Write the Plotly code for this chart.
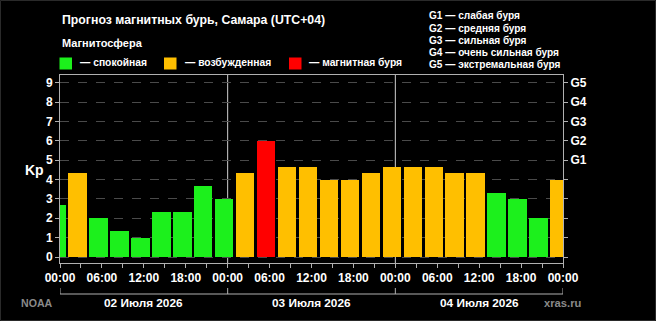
import plotly.graph_objects as go

# ---- data ----
hours = [-0.5 + 3 * i for i in range(25)]
kp = [2.67, 4.33, 2.0, 1.33, 1.0, 2.33, 2.33, 3.67, 3.0,
      4.33, 6.0, 4.67, 4.67, 4.0, 4.0, 4.33, 4.67, 4.67, 4.67,
      4.33, 4.33, 3.33, 3.0, 2.0, 4.0]
x_tickvals = [0, 6, 12, 18, 24, 30, 36, 42, 48, 54, 60, 66, 72]
x_ticktext = ["00:00", "06:00", "12:00", "18:00"] * 3 + ["00:00"]
day_labels = ["02 Июля 2026", "03 Июля 2026", "04 Июля 2026"]
g_labels = ["G1", "G2", "G3", "G4", "G5"]
g_desc = ["G1 — слабая буря", "G2 — средняя буря", "G3 — сильная буря",
          "G4 — очень сильная буря", "G5 — экстремальная буря"]
legend_items = [("— спокойная", "#1cf01c"), ("— возбужденная", "#ffbf00"),
                ("— магнитная буря", "#ff0000")]

GREEN, ORANGE, RED = "#1cf01c", "#ffbf00", "#ff0000"


def color_for(v):
    if v >= 5:
        return RED
    if v >= 4:
        return ORANGE
    return GREEN


W, H = 656, 321
L, R, T, B = 60, 563, 75, 263
pw, ph = R - L, B - T


def px(x):
    return (x - L) / pw


def py(y):
    return (B - y) / ph


FONT = "Liberation Sans, Arial, sans-serif"

fig = go.Figure()
fig.add_trace(go.Bar(
    x=hours, y=kp, width=2.65,
    marker=dict(color=[color_for(v) for v in kp], line=dict(width=0)),
    hoverinfo="skip", showlegend=False,
))
fig.add_trace(go.Scatter(x=[0], y=[0], yaxis="y2", mode="markers",
                         marker=dict(opacity=0), showlegend=False, hoverinfo="skip"))

yr = [-0.31, 9.4]
axcol = "#b0b0b0"
fig.update_layout(
    width=W, height=H,
    margin=dict(l=L, r=W - R, t=T, b=H - B, pad=0),
    paper_bgcolor="black", plot_bgcolor="black",
    font=dict(family=FONT, color="white", size=12),
    bargap=0,
    xaxis=dict(range=[0, 72], tickvals=x_tickvals, ticktext=x_ticktext,
               ticks="outside", ticklen=4, tickcolor=axcol,
               minor=dict(tickvals=list(range(3, 72, 6)), ticks="outside",
                          ticklen=4, tickcolor=axcol),
               showgrid=False, zeroline=False, showline=True, linecolor=axcol,
               mirror=True, tickfont=dict(family=FONT, size=12, color="white",
                                         weight="bold")),
    yaxis=dict(range=yr, tickvals=list(range(10)), ticks="outside", ticklen=4,
               tickcolor=axcol, showgrid=True, gridcolor="#4a4a4a",
               griddash="dash", gridwidth=1, zeroline=False, showline=True,
               linecolor=axcol, mirror=True,
               tickfont=dict(family=FONT, size=12, color="white", weight="bold")),
    yaxis2=dict(range=yr, overlaying="y", side="right",
                tickvals=list(range(10)),
                ticktext=["", "", "", "", ""] + g_labels,
                ticks="outside", ticklen=4, tickcolor=axcol, showgrid=False,
                zeroline=False, showline=False,
                tickfont=dict(family=FONT, size=12, color="white", weight="bold")),
)

shapes = []
# day separators
for d in [24, 48]:
    shapes.append(dict(type="line", xref="x", yref="paper", x0=d, x1=d, y0=0, y1=1,
                       line=dict(color="#d0d0d0", width=1), layer="below"))
# date bracket
yb = py(294)
yt = py(288)
shapes.append(dict(type="line", xref="x", yref="paper", x0=0, x1=72, y0=yb, y1=yb,
                   line=dict(color=axcol, width=1)))
for d in [0, 24, 48, 72]:
    shapes.append(dict(type="line", xref="x", yref="paper", x0=d, x1=d, y0=yb, y1=yt,
                       line=dict(color=axcol, width=1)))
# legend squares
sq_x = [59.5, 164, 289]
for (txt, col), sx in zip(legend_items, sq_x):
    shapes.append(dict(type="rect", xref="paper", yref="paper",
                       x0=px(sx), x1=px(sx + 12.5), y0=py(57.5), y1=py(69.5),
                       fillcolor=col, line=dict(width=0)))
# outer frame
shapes.append(dict(type="rect", xref="paper", yref="paper",
                   x0=px(0.5), x1=px(W - 0.5), y0=py(0.5), y1=py(H - 0.5),
                   line=dict(color="#2a2a2a", width=1)))
fig.update_layout(shapes=shapes)

ann = []


def text(x, y, s, size=12, color="white", xanchor="left", bold=True):
    ann.append(dict(xref="paper", yref="paper", x=px(x), y=py(y), text=s,
                    showarrow=False, xanchor=xanchor, yanchor="middle",
                    font=dict(family=FONT, size=size, color=color,
                              weight="bold" if bold else "normal")))


text(60, 20, "Прогноз магнитных бурь, Самара (UTC+04)", size=12.3)
text(60, 43.5, "Магнитосфера", size=11)
for (txt, col), tx in zip(legend_items, [78, 182.5, 307]):
    text(tx, 62.5, txt, size=10.3)
for i, s in enumerate(g_desc):
    text(426.5, 15.7 + i * 12.3, s, size=10.1)
text(34, 170, "Kp", size=14, xanchor="center")
for i, s in enumerate(day_labels):
    ann.append(dict(xref="x", yref="paper", x=12 + 24 * i, y=py(303), text=s,
                    showarrow=False, xanchor="center", yanchor="middle",
                    font=dict(family=FONT, size=11.8, color="white", weight="bold")))
text(19, 303, "NOAA", size=10.6, color="#8a8a8a")
text(541.5, 303, "xras.ru", size=11.2, color="#8a8a8a")
fig.update_layout(annotations=ann)

fig.write_html("out.html")
